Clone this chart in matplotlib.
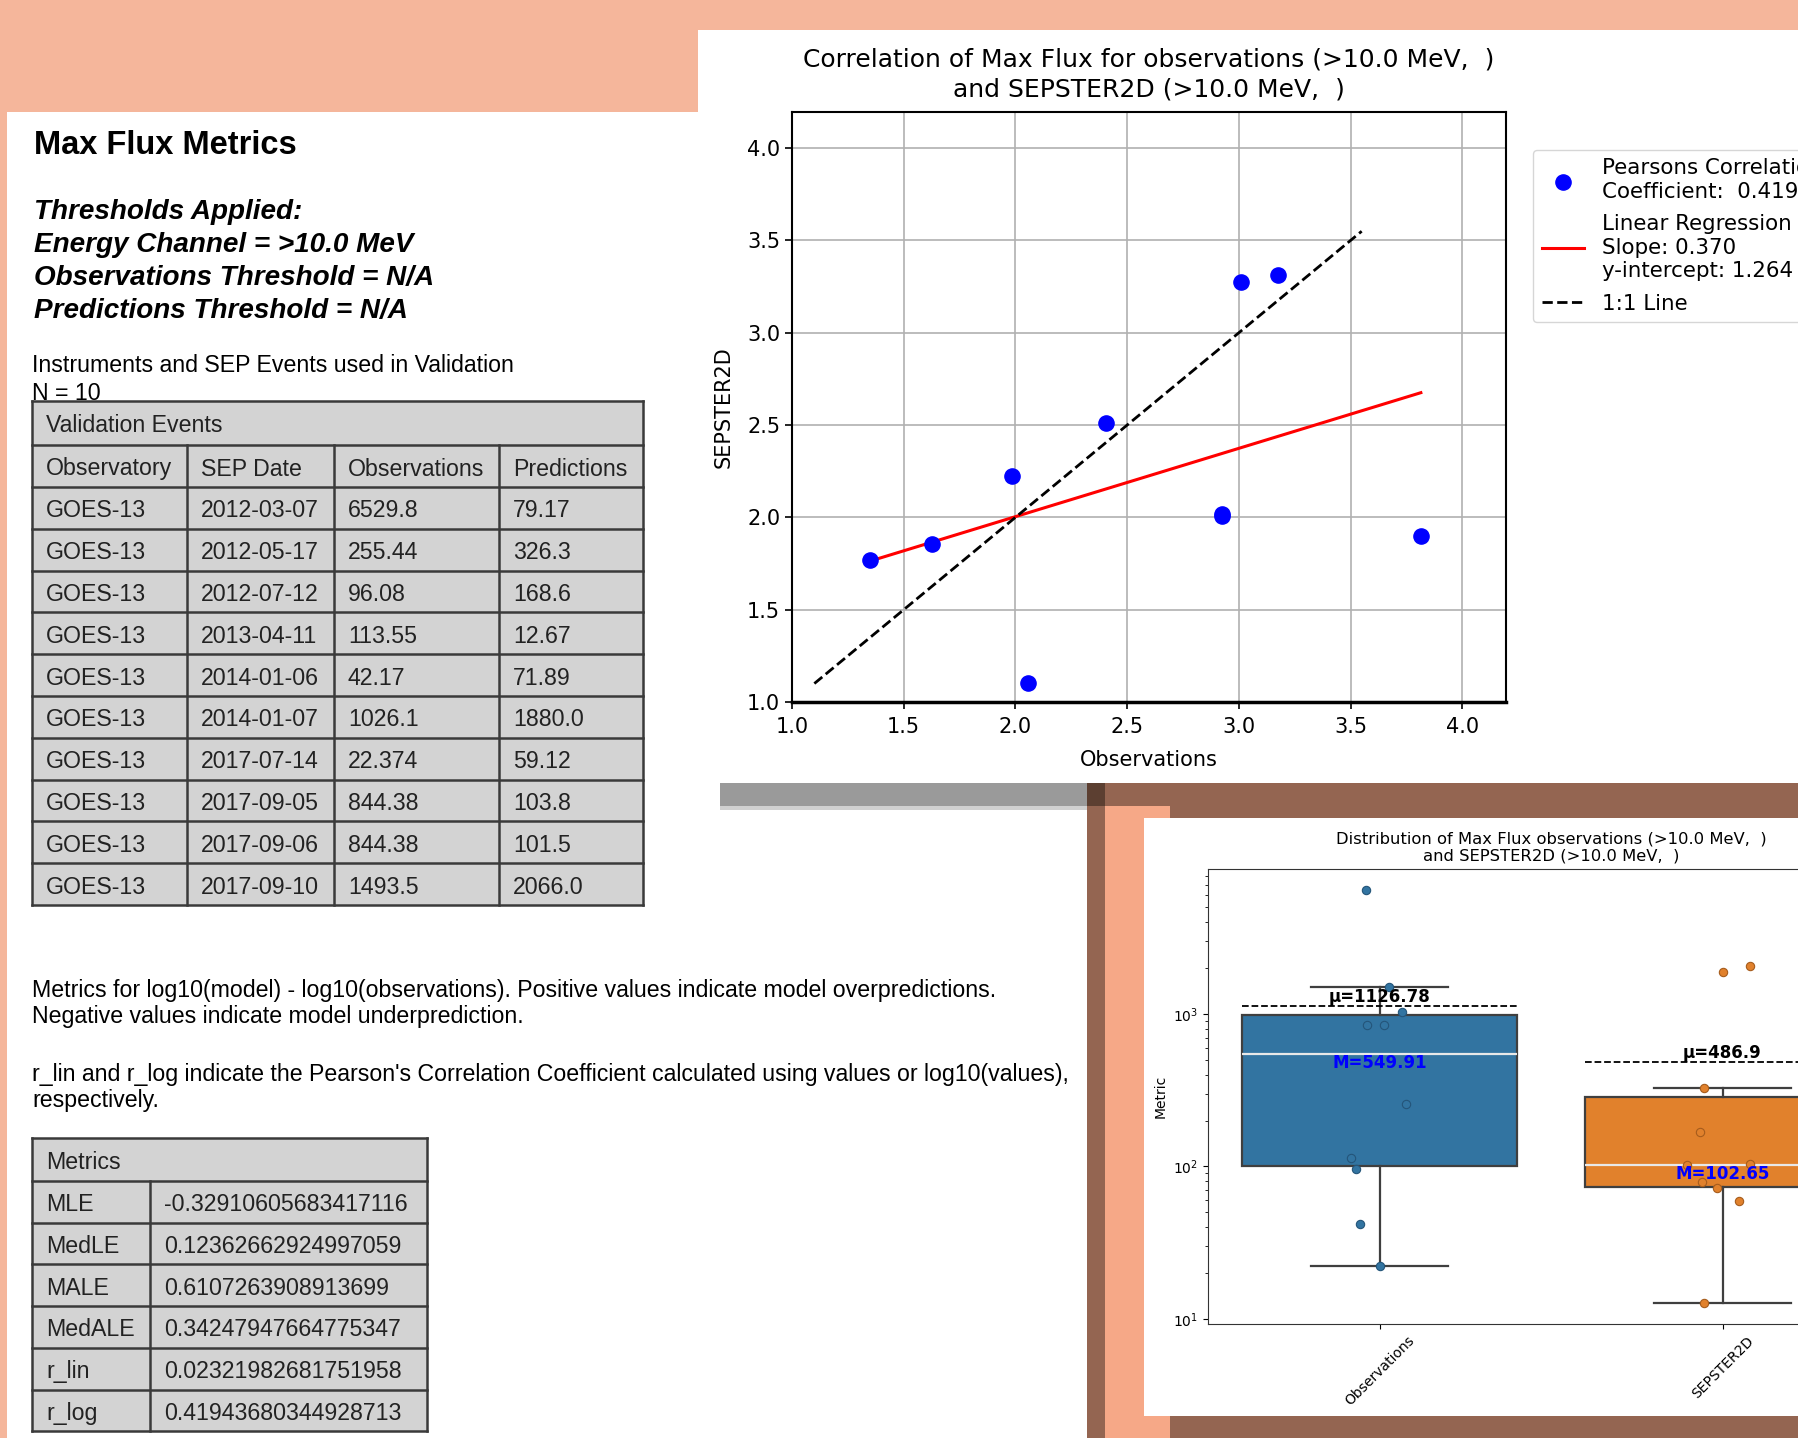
import numpy as np
import matplotlib
matplotlib.use('Agg')
import matplotlib.pyplot as plt
from matplotlib.patches import Rectangle

# --- DATA ---
observatory = ['GOES-13'] * 10
sep_dates = ['2012-03-07', '2012-05-17', '2012-07-12', '2013-04-11', '2014-01-06',
             '2014-01-07', '2017-07-14', '2017-09-05', '2017-09-06', '2017-09-10']
obs_text = ['6529.8', '255.44', '96.08', '113.55', '42.17',
            '1026.1', '22.374', '844.38', '844.38', '1493.5']
pred_text = ['79.17', '326.3', '168.6', '12.67', '71.89',
             '1880.0', '59.12', '103.8', '101.5', '2066.0']
obs_flux = np.array([float(v) for v in obs_text])
pred_flux = np.array([float(v) for v in pred_text])

metric_names = ['MLE', 'MedLE', 'MALE', 'MedALE', 'r_lin', 'r_log']
metric_values = ['-0.32910605683417116', '0.12362662924997059', '0.6107263908913699',
                 '0.34247947664775347', '0.02321982681751958', '0.41943680344928713']

pearson_r = 0.419
reg_slope = 0.370
reg_intercept = 1.264
one_to_one = [1.10, 3.55]
scatter_lim = [1.0, 4.196]
scatter_ticks = [1.0, 1.5, 2.0, 2.5, 3.0, 3.5, 4.0]

box_labels = ['Observations', 'SEPSTER2D']
# horizontal strip offsets
obs_jitter = [-0.039, 0.076, -0.068, -0.083, -0.058, 0.067, 0.0, -0.035, 0.012, 0.028]
pred_jitter = [-0.060, -0.055, -0.065, -0.055, -0.017, 0.0, 0.047, 0.079, -0.103, 0.079]

# --- COLOURS ---
SALMON = '#f5b69b'
SALMON_IN = '#f6a887'
BROWN = '#946551'
DARK_BROWN = '#5c3f31'
SHADOW = '#9a9a9a'
CELL = '#d3d3d3'
BORDER = '#3a3a3a'

W, H = 1798, 1438
fig = plt.figure(figsize=(W / 100, H / 100), dpi=100)
fig.patch.set_facecolor(SALMON)

# background canvas in pixel units (y downwards)
bg = fig.add_axes([0, 0, 1, 1])
bg.set_xlim(0, W)
bg.set_ylim(H, 0)
bg.set_axis_off()
bg.set_zorder(0)


def rect(x0, y0, x1, y1, color, z=1):
    bg.add_patch(Rectangle((x0, y0), x1 - x0, y1 - y0, facecolor=color, edgecolor='none', zorder=z))


rect(7, 112, 1087, H, 'white')          # report page
rect(698, 30, W, 783, 'white')          # scatter panel
rect(720, 783, 1087, 806, SHADOW, 2)    # shadow under the scatter panel
rect(720, 806, 1087, 810, '#d0d0d0', 2)
rect(1087, 783, W, H, BROWN, 2)         # boxplot frame
rect(1087, 783, 1105, 806, DARK_BROWN, 3)
rect(1105, 806, 1170, H, SALMON_IN, 3)
rect(1144, 818, W, 1416, 'white', 4)

# --- REPORT TEXT ---
page_font = 'Liberation Sans'
FS = 16.7
bg.text(34, 146, 'Max Flux Metrics', family=page_font, fontsize=23.5, fontweight='bold',
        va='center', zorder=5)
thr_lines = ['Thresholds Applied:', 'Energy Channel = >10.0 MeV',
             'Observations Threshold = N/A', 'Predictions Threshold = N/A']
for i, line in enumerate(thr_lines):
    bg.text(34, 212 + i * 33, line, family=page_font, fontsize=20.1, fontweight='bold',
            style='italic', va='center', zorder=5)
bg.text(32, 365, 'Instruments and SEP Events used in Validation', family=page_font,
        fontsize=FS, va='center', zorder=5)
bg.text(32, 393, 'N = 10', family=page_font, fontsize=FS, va='center', zorder=5)


def draw_table(col_x, row_y, title, rows):
    x0, x1 = col_x[0], col_x[-1]
    for r in range(len(row_y) - 1):
        rect(x0, row_y[r], x1, row_y[r + 1], CELL, 4)
    for y in row_y:
        bg.plot([x0, x1], [y, y], color=BORDER, lw=1.8, zorder=6)
    bg.plot([x0, x0], [row_y[0], row_y[-1]], color=BORDER, lw=1.8, zorder=6)
    bg.plot([x1, x1], [row_y[0], row_y[-1]], color=BORDER, lw=1.8, zorder=6)
    for cx in col_x[1:-1]:
        bg.plot([cx, cx], [row_y[1], row_y[-1]], color=BORDER, lw=1.8, zorder=6)
    bg.text(x0 + 14, (row_y[0] + row_y[1]) / 2 + 3, title, family=page_font, fontsize=FS,
            va='center', color='#222222', zorder=7)
    for r, row in enumerate(rows):
        yc = (row_y[r + 1] + row_y[r + 2]) / 2 + 3
        for c, val in enumerate(row):
            bg.text(col_x[c] + 14, yc, val, family=page_font, fontsize=FS, va='center',
                    color='#222222', zorder=7)


val_cols = [32, 187, 334, 499, 643]
val_rows = [401, 445, 487] + [487 + 41.8 * (k + 1) for k in range(10)]
val_table = [['Observatory', 'SEP Date', 'Observations', 'Predictions']]
val_table += [list(r) for r in zip(observatory, sep_dates, obs_text, pred_text)]
draw_table(val_cols, val_rows, 'Validation Events', val_table)

para = ['Metrics for log10(model) - log10(observations). Positive values indicate model overpredictions.',
        'Negative values indicate model underprediction.',
        "r_lin and r_log indicate the Pearson's Correlation Coefficient calculated using values or log10(values),",
        'respectively.']
for y, line in zip([990, 1017, 1074, 1100], para):
    bg.text(32, y, line, family=page_font, fontsize=FS, va='center', zorder=5)

met_cols = [32, 150, 427]
met_rows = [1138, 1181] + [1181 + 41.7 * (k + 1) for k in range(6)]
draw_table(met_cols, met_rows, 'Metrics', [list(r) for r in zip(metric_names, metric_values)])

# --- SCATTER: log10 max flux ---
ax = fig.add_axes([792 / W, 1 - 702 / H, 714 / W, 590 / H])
ax.set_zorder(5)
x_log = np.log10(obs_flux)
y_log = np.log10(pred_flux)
ax.scatter(x_log, y_log, s=120, color='blue', zorder=3,
           label=f'Pearsons Correlation\nCoefficient:  {pearson_r:.3f}')
x_fit = np.array([x_log.min(), x_log.max()])
ax.plot(x_fit, reg_intercept + reg_slope * x_fit, color='red', lw=2.2, zorder=2,
        label=f'Linear Regression\nSlope: {reg_slope:.3f}\ny-intercept: {reg_intercept:.3f}')
ax.plot(one_to_one, one_to_one, color='black', ls='--', lw=2, zorder=2, label='1:1 Line')
ax.set_xlim(scatter_lim)
ax.set_ylim(scatter_lim)
ax.set_xticks(scatter_ticks)
ax.set_yticks(scatter_ticks)
ax.grid(True, color='#b0b0b0', lw=1.2)
ax.set_axisbelow(True)
ax.tick_params(labelsize=15, width=1.2, length=5)
ax.tick_params(axis='x', pad=6)
for sp in ax.spines.values():
    sp.set_linewidth(1.5)
ax.spines['bottom'].set_linewidth(2.5)
ax.set_xlabel('Observations', fontsize=15, labelpad=9)
ax.set_ylabel('SEPSTER2D', fontsize=15, labelpad=10)
ax.set_title('Correlation of Max Flux for observations (>10.0 MeV,  )\n'
             'and SEPSTER2D (>10.0 MeV,  )', fontsize=18, linespacing=1.35, pad=11)
ax.legend(loc='upper left', bbox_to_anchor=(1.038, 0.936), borderaxespad=0, fontsize=15.4,
          labelspacing=0.6)

# --- BOXPLOT: distribution on log scale ---
bx = fig.add_axes([1208 / W, 1 - 1324 / H, 686 / W, 455 / H])
bx.set_zorder(6)
box_colors = ['#3274a1', '#e1812c']
edge_colors = ['#24557a', '#a65c1c']
series = [obs_flux, pred_flux]
jitters = [obs_jitter, pred_jitter]
bp = bx.boxplot(series, positions=[0, 1], widths=0.8, patch_artist=True, showfliers=False,
                capwidths=0.4,
                boxprops=dict(edgecolor='#3f3f3f', linewidth=1.6),
                whiskerprops=dict(color='#3f3f3f', linewidth=1.6),
                capprops=dict(color='#3f3f3f', linewidth=1.6),
                medianprops=dict(color='#e8e8e8', linewidth=1.6))
for patch, c in zip(bp['boxes'], box_colors):
    patch.set_facecolor(c)
for i, (vals, jit) in enumerate(zip(series, jitters)):
    bx.scatter(i + np.array(jit), vals, s=36, color=box_colors[i], edgecolor=edge_colors[i],
               linewidth=0.8, zorder=4)
    mu = np.mean(vals)
    med = np.median(vals)
    bx.plot([i - 0.4, i + 0.4], [mu, mu], color='black', ls='--', lw=1.3, zorder=5)
    bx.text(i, mu, f'μ={round(mu, 2):g}', ha='center', va='bottom', fontsize=12,
            fontweight='bold', color='black', zorder=6)
    bx.text(i, med, f'M={round(med, 2):g}', ha='center', va='top', fontsize=12,
            fontweight='bold', color='blue', zorder=6)
bx.set_yscale('log')
bx.set_xlim(-0.5, 1.5)
bx.set_xticks([0, 1])
bx.set_xticklabels(box_labels, rotation=45, fontsize=10)
bx.tick_params(axis='y', labelsize=10)
bx.set_ylabel('Metric', fontsize=10)
bx.set_title('Distribution of Max Flux observations (>10.0 MeV,  )\n'
             'and SEPSTER2D (>10.0 MeV,  )', fontsize=11.75)
for sp in bx.spines.values():
    sp.set_color('#333333')

fig.savefig('out.png', dpi=100, facecolor=fig.get_facecolor())
